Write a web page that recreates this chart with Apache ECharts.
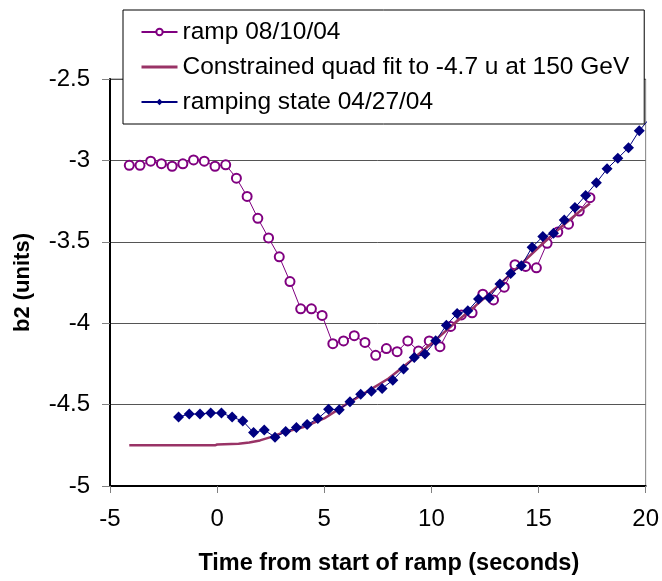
<!DOCTYPE html>
<html>
<head>
<meta charset="utf-8">
<script src="https://cdn.jsdelivr.net/npm/echarts@6/dist/echarts.min.js"></script>
<style>
html,body{margin:0;padding:0;background:#fff;}
#chart{width:662px;height:581px;}
</style>
</head>
<body>
<div id="chart"></div>
<script>
// ramp 08/10/04
var rampTime = [-4.1,-3.6,-3.1,-2.6,-2.1,-1.6,-1.1,-0.6,-0.1,0.4,0.9,1.4,1.9,2.4,2.9,3.4,3.9,4.4,4.9,5.4,5.9,6.4,6.9,7.4,7.9,8.4,8.9,9.4,9.9,10.4,10.9,11.4,11.9,12.4,12.9,13.4,13.9,14.4,14.9,15.4,15.9,16.4,16.9,17.4];
var rampB2 = [-3.03,-3.03,-3.005,-3.02,-3.036,-3.021,-2.997,-3.005,-3.036,-3.027,-3.109,-3.221,-3.356,-3.476,-3.592,-3.744,-3.912,-3.912,-3.952,-4.126,-4.109,-4.077,-4.118,-4.197,-4.156,-4.175,-4.109,-4.171,-4.109,-4.144,-4.02,-3.949,-3.936,-3.822,-3.857,-3.779,-3.641,-3.651,-3.66,-3.509,-3.44,-3.392,-3.311,-3.229];

// Constrained quad fit
var fitTime = [-4.1,-0.1,0,1,1.5,2,2.5,3,4,5,6,7,8,9,10,11,12,13,14,15,16,17,17.4];
var fitB2 = [-4.75,-4.75,-4.745,-4.74,-4.733,-4.72,-4.70,-4.675,-4.64,-4.585,-4.50,-4.42,-4.34,-4.235,-4.125,-4.01,-3.90,-3.785,-3.66,-3.535,-3.415,-3.305,-3.265];

// ramping state 04/27/04
var blueTime = [-1.8,-1.3,-0.8,-0.3,0.2,0.7,1.2,1.7,2.2,2.7,3.2,3.7,4.2,4.7,5.2,5.7,6.2,6.7,7.2,7.7,8.2,8.7,9.2,9.7,10.2,10.7,11.2,11.7,12.2,12.7,13.2,13.7,14.2,14.7,15.2,15.7,16.2,16.7,17.2,17.7,18.2,18.7,19.2,19.7,20.2,20.7];
var blueB2 = [-4.576,-4.558,-4.558,-4.552,-4.552,-4.576,-4.601,-4.672,-4.656,-4.70,-4.666,-4.641,-4.623,-4.586,-4.529,-4.531,-4.482,-4.436,-4.418,-4.401,-4.35,-4.281,-4.21,-4.189,-4.108,-4.012,-3.941,-3.924,-3.851,-3.843,-3.759,-3.694,-3.647,-3.533,-3.468,-3.447,-3.366,-3.29,-3.215,-3.137,-3.052,-2.987,-2.922,-2.818,-2.74,-2.655];

var xTicks = {min:-5, max:20, interval:5};
var yTicks = {min:-5, max:-2.5, interval:0.5};

function pairs(xs, ys){ return xs.map(function(x,i){ return [x, ys[i]]; }); }

var chart = echarts.init(document.getElementById('chart'), null, {renderer:'canvas'});
var font = 'Arial, "Liberation Sans", sans-serif';
chart.setOption({
  animation:false,
  backgroundColor:'#ffffff',
  grid:{left:110, right:15, top:79, bottom:93, show:true, borderColor:'#808080', borderWidth:1, backgroundColor:'transparent'},
  legend:{
    orient:'vertical', left:123, top:10,
    padding:[9,15,9,17],
    itemGap:9, itemWidth:36, itemHeight:8,
    backgroundColor:'#ffffff', borderColor:'#000000', borderWidth:1, borderRadius:0,
    textStyle:{fontFamily:font, fontSize:24.5, color:'#000', lineHeight:26},
    data:[
      {name:'ramp 08/10/04'},
      {name:'Constrained quad fit to -4.7 u at 150 GeV', itemStyle:{opacity:0}, lineStyle:{color:'#993366', width:3, opacity:1}},
      {name:'ramping state 04/27/04'}
    ],
    z:10
  },
  xAxis:{
    type:'value', min:xTicks.min, max:xTicks.max, interval:xTicks.interval,
    name:'Time from start of ramp (seconds)', nameLocation:'middle', nameGap:66,
    nameTextStyle:{fontFamily:font, fontSize:23.5, fontWeight:'bold', color:'#000', padding:[0,0,0,22]},
    axisLine:{onZero:false, lineStyle:{color:'#000', width:2}},
    axisTick:{show:true, inside:false, length:7, lineStyle:{color:'#808080', width:1}},
    axisLabel:{fontFamily:font, fontSize:24, color:'#000', margin:21},
    splitLine:{show:false}
  },
  yAxis:{
    type:'value', min:yTicks.min, max:yTicks.max, interval:yTicks.interval,
    name:'b2 (units)', nameLocation:'middle', nameGap:76, nameRotate:90,
    nameTextStyle:{fontFamily:font, fontSize:22, fontWeight:'bold', color:'#000'},
    axisLine:{onZero:false, lineStyle:{color:'#000', width:2}},
    axisTick:{show:true, inside:false, length:8, lineStyle:{color:'#808080', width:1}},
    axisLabel:{fontFamily:font, fontSize:24, color:'#000', margin:20},
    splitLine:{show:true, lineStyle:{color:'#555555', width:1}}
  },
  series:[
    {
      name:'ramp 08/10/04', type:'line', data:pairs(rampTime, rampB2),
      symbol:'emptyCircle', symbolSize:9, showAllSymbol:true,
      itemStyle:{color:'#800080', borderWidth:1},
      lineStyle:{color:'#800080', width:1}, z:2
    },
    {
      name:'Constrained quad fit to -4.7 u at 150 GeV', type:'line', data:pairs(fitTime, fitB2),
      symbol:'none', showSymbol:false,
      itemStyle:{color:'#993366'},
      lineStyle:{color:'#993366', width:2.5}, z:3
    },
    {
      name:'ramping state 04/27/04', type:'line', data:pairs(blueTime, blueB2),
      symbol:'diamond',
      symbolSize:function(v){ return v[0] > xTicks.max ? 0 : 11; },
      showAllSymbol:true, clip:false,
      itemStyle:{color:'#000080'},
      lineStyle:{color:'#000080', width:1}, z:4
    }
  ]
});
</script>
</body>
</html>
